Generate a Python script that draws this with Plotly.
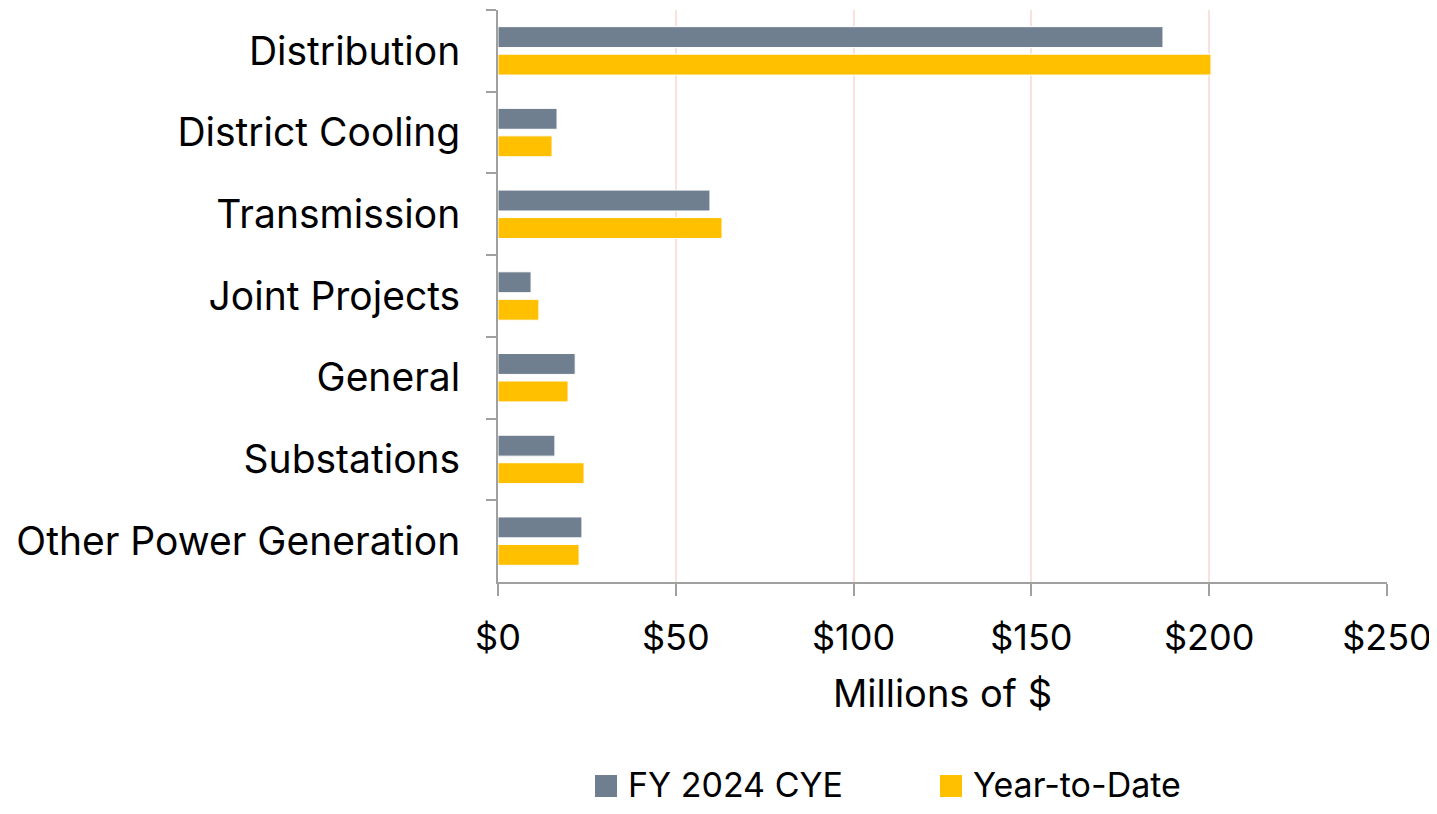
import plotly.graph_objects as go

categories = ["Distribution", "District Cooling", "Transmission", "Joint Projects",
              "General", "Substations", "Other Power Generation"]
fy_2024_cye = [187.0, 16.6, 59.6, 9.3, 21.7, 16.0, 23.6]
year_to_date = [200.5, 15.2, 63.0, 11.5, 19.7, 24.2, 22.8]
x_ticks = [0, 50, 100, 150, 200, 250]
x_tick_labels = ["$0", "$50", "$100", "$150", "$200", "$250"]
series_names = ["FY 2024 CYE", "Year-to-Date"]
series_colors = ["#6F7F8F", "#FFC000"]

FONT = "Inter, Noto Sans, sans-serif"
OFF = 8  # page body margin
W, H = 1437 - 2 * OFF, 814 - 2 * OFF
ML, MT = 498 - OFF, 10 - OFF
MR = W - (1387 - OFF)
MB = H - MT - 572

fig = go.Figure()
for name, vals, col in zip(series_names, [fy_2024_cye, year_to_date], series_colors):
    fig.add_trace(go.Bar(y=categories, x=vals, orientation="h", name=name, showlegend=False,
                         marker=dict(color=col, line=dict(color="white", width=1))))

# manual legend (large square swatches)
PW, PH = W - ML - MR, H - MT - MB
legend_x = [595 - OFF, 940 - OFF]
legend_yc = 784 - OFF
sq = 22
for name, col, lx in zip(series_names, series_colors, legend_x):
    fig.add_shape(type="rect", xref="paper", yref="paper",
                  x0=(lx - ML) / PW, x1=(lx + sq - ML) / PW,
                  y0=(H - MB - (legend_yc + 2 + sq / 2)) / PH,
                  y1=(H - MB - (legend_yc + 2 - sq / 2)) / PH,
                  fillcolor=col, line=dict(width=0))
    fig.add_annotation(xref="paper", yref="paper", x=(lx + sq + 10 - ML) / PW,
                       y=(H - MB - legend_yc) / PH, xanchor="left", yanchor="middle",
                       text=name, showarrow=False, borderpad=0,
                       font=dict(size=34, family=FONT, color="black"))

fig.update_layout(
    width=W, height=H,
    margin=dict(l=ML, r=MR, t=MT, b=MB),
    paper_bgcolor="white", plot_bgcolor="white",
    barmode="group", bargap=0.327, bargroupgap=0.24,
    font=dict(family=FONT, size=39, color="black"),
    showlegend=False,
    xaxis=dict(range=[0, 250], tickvals=x_ticks, ticktext=x_tick_labels,
               showgrid=True, gridcolor="#FBE1DC", gridwidth=2,
               showline=True, linecolor="#A0A0A0", linewidth=2,
               ticks="outside", ticklen=12, tickcolor="#A0A0A0", tickwidth=2,
               zeroline=False, automargin=False, ticklabelstandoff=11,
               ticklabeloverflow="allow",
               title=dict(text="Millions of $", font=dict(size=38), standoff=22),
               tickfont=dict(size=36)),
    yaxis=dict(autorange="reversed", showline=True, linecolor="#A0A0A0", linewidth=2,
               ticks="outside", ticklen=10, tickcolor="#A0A0A0", tickwidth=2,
               tickson="boundaries", showgrid=False, tickfont=dict(size=39),
               ticklabelstandoff=28, automargin=False),
)

fig.write_html("out.html")
